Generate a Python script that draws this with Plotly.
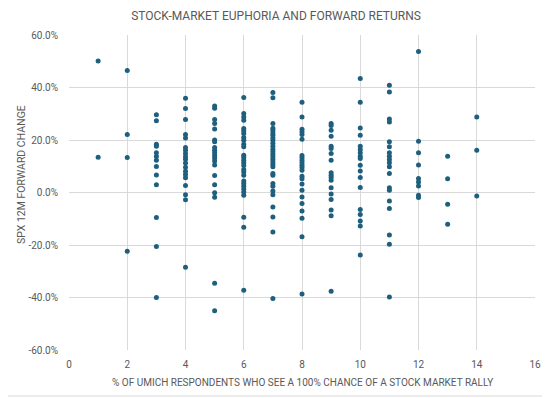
import plotly.graph_objects as go

# % of UMich respondents who see a 100% chance of a stock market rally
x_values = [1, 2, 3, 4, 5, 6, 7, 8, 9, 10, 11, 12, 13, 14]
# SPX 12M forward change (%) for each x value
y_groups = [
    [50.1, 13.4],
    [46.5, 22.1, 13.3, -22.4],
    [29.6, 27.3, 18.4, 17.6, 15.1, 13.7, 12.3, 9.9, 6.7, 3.0, -9.5, -20.6, -40.0],
    [35.9, 32.0, 27.8, 22.1, 20.8, 17.1, 16.1, 14.9, 13.6, 12.7, 11.2, 9.6, 8.1, 6.9,
     5.6, 2.7, -0.9, -2.8, -28.5],
    [33.0, 32.1, 27.8, 26.3, 24.2, 20.0, 19.3, 17.1, 16.1, 15.1, 14.1, 13.1, 12.0, 10.5,
     6.5, 3.0, -0.1, -1.8, -34.6, -45.0],
    [36.2, 30.1, 28.8, 27.5, 24.4, 23.5, 22.5, 21.0, 19.9, 18.4, 17.4, 14.2, 13.3, 12.3,
     11.3, 10.3, 8.8, 7.8, 6.6, 4.4, 3.4, 2.4, 1.3, 0.2, -1.0, -9.4, -13.2, -37.2],
    [38.1, 36.1, 26.3, 24.5, 23.7, 22.7, 21.8, 20.8, 19.9, 18.8, 17.6, 16.5, 15.5, 14.6,
     13.6, 12.7, 11.7, 10.8, 9.8, 7.2, 6.6, 3.4, 2.4, 0.6, -0.9, -5.5, -9.3, -15.0, -40.4],
    [34.4, 28.8, 24.1, 23.1, 22.1, 20.3, 14.1, 13.2, 12.3, 11.3, 10.4, 9.5, 8.5, 6.2,
     5.2, 3.2, 0.9, -1.7, -4.2, -7.0, -9.8, -16.9, -38.7],
    [26.3, 25.5, 23.7, 21.4, 17.6, 16.8, 14.9, 12.3, 7.5, 6.6, 5.7, 4.7, 1.8, -0.6,
     -2.7, -6.7, -8.9, -37.6],
    [43.4, 34.4, 24.6, 21.8, 17.6, 16.4, 15.1, 13.8, 13.0, 10.4, 8.2, 5.7, 1.9, -6.5,
     -8.4, -10.9, -12.8, -23.8],
    [40.9, 38.3, 28.0, 26.9, 19.3, 17.4, 15.1, 13.8, 12.6, 11.3, 9.8, 7.2, 1.8, 0.9,
     -3.2, -6.1, -16.2, -19.7, -39.8],
    [53.7, 19.5, 15.1, 10.5, 5.3, 4.0, 2.5, -1.0, -1.9],
    [13.8, 5.2, -4.5, -12.1],
    [28.8, 16.1, -1.3],
]

title_text = "STOCK-MARKET EUPHORIA AND FORWARD RETURNS"
x_title = "% OF UMICH RESPONDENTS WHO SEE A 100% CHANCE OF A STOCK MARKET RALLY"
y_title = "SPX 12M FORWARD CHANGE"
x_ticks = [0, 2, 4, 6, 8, 10, 12, 14, 16]
y_ticks = [-60, -40, -20, 0, 20, 40, 60]
y_tick_labels = ["-60.0%", "-40.0%", "-20.0%", "0.0%", "20.0%", "40.0%", "60.0%"]

xs, ys = [], []
for xv, group in zip(x_values, y_groups):
    for yv in group:
        xs.append(xv)
        ys.append(yv)

font_family = "Roboto, 'Open Sans', sans-serif"
text_color = "#595959"
grid_color = "#d9d9d9"

fig = go.Figure(
    go.Scatter(
        x=xs, y=ys, mode="markers",
        marker=dict(color="#1f5f7e", size=5, line=dict(width=0)),
        hoverinfo="x+y",
    )
)

# The page body adds an 8px offset; compensate so the plot area sits where the reference has it.
OFF = 8
W, H = 550 - OFF, 398 - OFF
ml, mr, mt, mb = 69 - OFF, 15, 35 - OFF, 48
pw, ph = W - ml - mr, H - mt - mb


def px_to_paper_x(px):
    return (px - OFF - ml) / pw


def px_to_paper_y(py):
    return (H - mb - (py - OFF)) / ph


fig.update_layout(
    width=W, height=H,
    margin=dict(l=ml, r=mr, t=mt, b=mb),
    paper_bgcolor="white", plot_bgcolor="white",
    showlegend=False,
    font=dict(family=font_family, color=text_color),
    title=dict(text=title_text, x=(276 - OFF) / W, xanchor="center",
               y=1 - (16 - OFF) / H, yanchor="middle",
               font=dict(size=12, color=text_color, family=font_family)),
    xaxis=dict(
        range=[0, 16], tickvals=x_ticks, showgrid=True, gridcolor=grid_color, gridwidth=1,
        zeroline=False, showline=False, automargin=False, ticklabeloverflow="allow",
        ticks="outside", ticklen=5, tickcolor="rgba(0,0,0,0)",
        tickfont=dict(size=10, color=text_color),
    ),
    yaxis=dict(
        range=[-60, 60], tickvals=y_ticks, ticktext=y_tick_labels,
        showgrid=True, gridcolor=grid_color, gridwidth=1,
        zeroline=False, showline=False, automargin=False,
        ticks="outside", ticklen=8, tickcolor="rgba(0,0,0,0)",
        tickfont=dict(size=10, color=text_color),
    ),
    annotations=[
        dict(text=x_title, xref="paper", yref="paper",
             x=px_to_paper_x(302.5), y=px_to_paper_y(382),
             xanchor="center", yanchor="middle", showarrow=False,
             font=dict(size=10, color=text_color)),
        dict(text=y_title, xref="paper", yref="paper", textangle=-90,
             x=px_to_paper_x(21), y=px_to_paper_y(175),
             xanchor="center", yanchor="middle", showarrow=False,
             font=dict(size=10.5, color=text_color)),
    ],
)

# faint chart-area border (right and bottom edges visible within the page)
fig.add_shape(type="line", xref="paper", yref="paper",
              x0=1 + (mr - 2) / pw, x1=1 + (mr - 2) / pw,
              y0=-(mb - 2) / ph, y1=1 + mt / ph,
              line=dict(color="#d9d9d9", width=1), layer="below")
fig.add_shape(type="line", xref="paper", yref="paper",
              x0=-ml / pw, x1=1 + (mr - 2) / pw,
              y0=-(mb - 2) / ph, y1=-(mb - 2) / ph,
              line=dict(color="#d9d9d9", width=1), layer="below")

fig.write_html("out.html")
